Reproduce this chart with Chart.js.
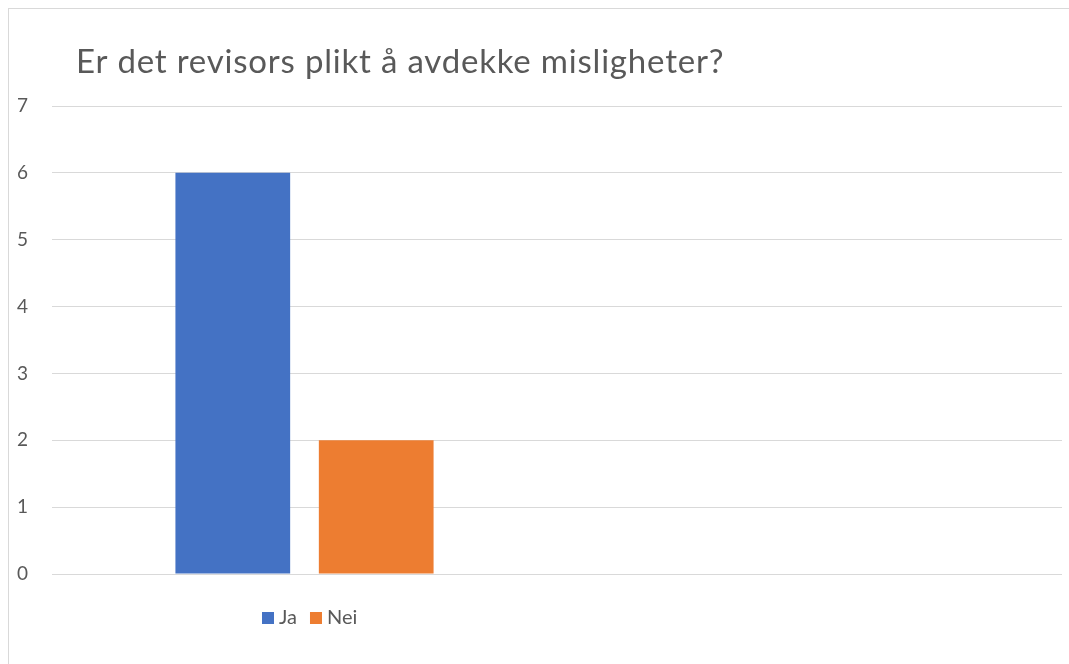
<!DOCTYPE html>
<html>
<head>
<meta charset="utf-8">
<script src="https://cdn.jsdelivr.net/npm/chart.js@4"></script>
<style>
  body { margin: 0; background: #fff; }
  #wrap { position: relative; width: 1069px; height: 664px; overflow: hidden; }
  #frame { position: absolute; left: 8px; top: 8px; width: 1200px; height: 800px;
           border-top: 1px solid #d9d9d9; border-left: 1px solid #d9d9d9; }
  canvas { position: absolute; left: 0; top: 0; }
</style>
</head>
<body>
<div id="wrap">
  <div id="frame"></div>
  <canvas id="chart" width="1069" height="664"></canvas>
</div>
<script>
const chartTitle = 'Er det revisors plikt å avdekke misligheter?';
const categories = ['', ''];
const seriesNames = ['Ja', 'Nei'];
const jaValues = [6, null];
const neiValues = [2, null];
const seriesColors = ['#4472C4', '#ED7D31'];

// tittel og forklaring tegnes selv, venstrejustert som i Excel
const excelBits = {
  id: 'excelBits',
  afterDraw(chart) {
    const ctx = chart.ctx;
    ctx.save();
    ctx.fillStyle = '#595959';
    ctx.font = '400 33px Lato';
    ctx.letterSpacing = '0.8px';
    ctx.textBaseline = 'alphabetic';
    ctx.fillText(chartTitle, 76, 73);
    ctx.letterSpacing = '0px';

    ctx.font = '20px Lato';
    ctx.textBaseline = 'middle';
    let x = 262;
    const y = 618;
    chart.data.datasets.forEach(ds => {
      ctx.fillStyle = ds.backgroundColor;
      ctx.fillRect(x, y - 6, 12, 12);
      x += 17;
      ctx.fillStyle = '#595959';
      ctx.fillText(ds.label, x, y);
      x += ctx.measureText(ds.label).width + 13;
    });
    ctx.restore();
  }
};

new Chart(document.getElementById('chart'), {
  type: 'bar',
  data: {
    labels: categories,
    datasets: [
      { label: seriesNames[0], data: jaValues, backgroundColor: seriesColors[0] },
      { label: seriesNames[1], data: neiValues, backgroundColor: seriesColors[1] }
    ]
  },
  options: {
    responsive: false,
    animation: false,
    layout: { padding: { top: 106, right: 7, bottom: 90, left: 0 } },
    categoryPercentage: 0.568,
    barPercentage: 0.8,
    plugins: {
      legend: { display: false },
      title: { display: false },
      tooltip: { enabled: false }
    },
    scales: {
      x: { display: false },
      y: {
        min: 0,
        max: 7,
        ticks: { stepSize: 1, padding: 24, color: '#595959', font: { family: 'Lato', size: 19 } },
        grid: { color: '#d9d9d9', drawTicks: false },
        border: { display: false },
        afterFit(scale) { scale.width = 52; }
      }
    }
  },
  plugins: [excelBits]
});
</script>
</body>
</html>
